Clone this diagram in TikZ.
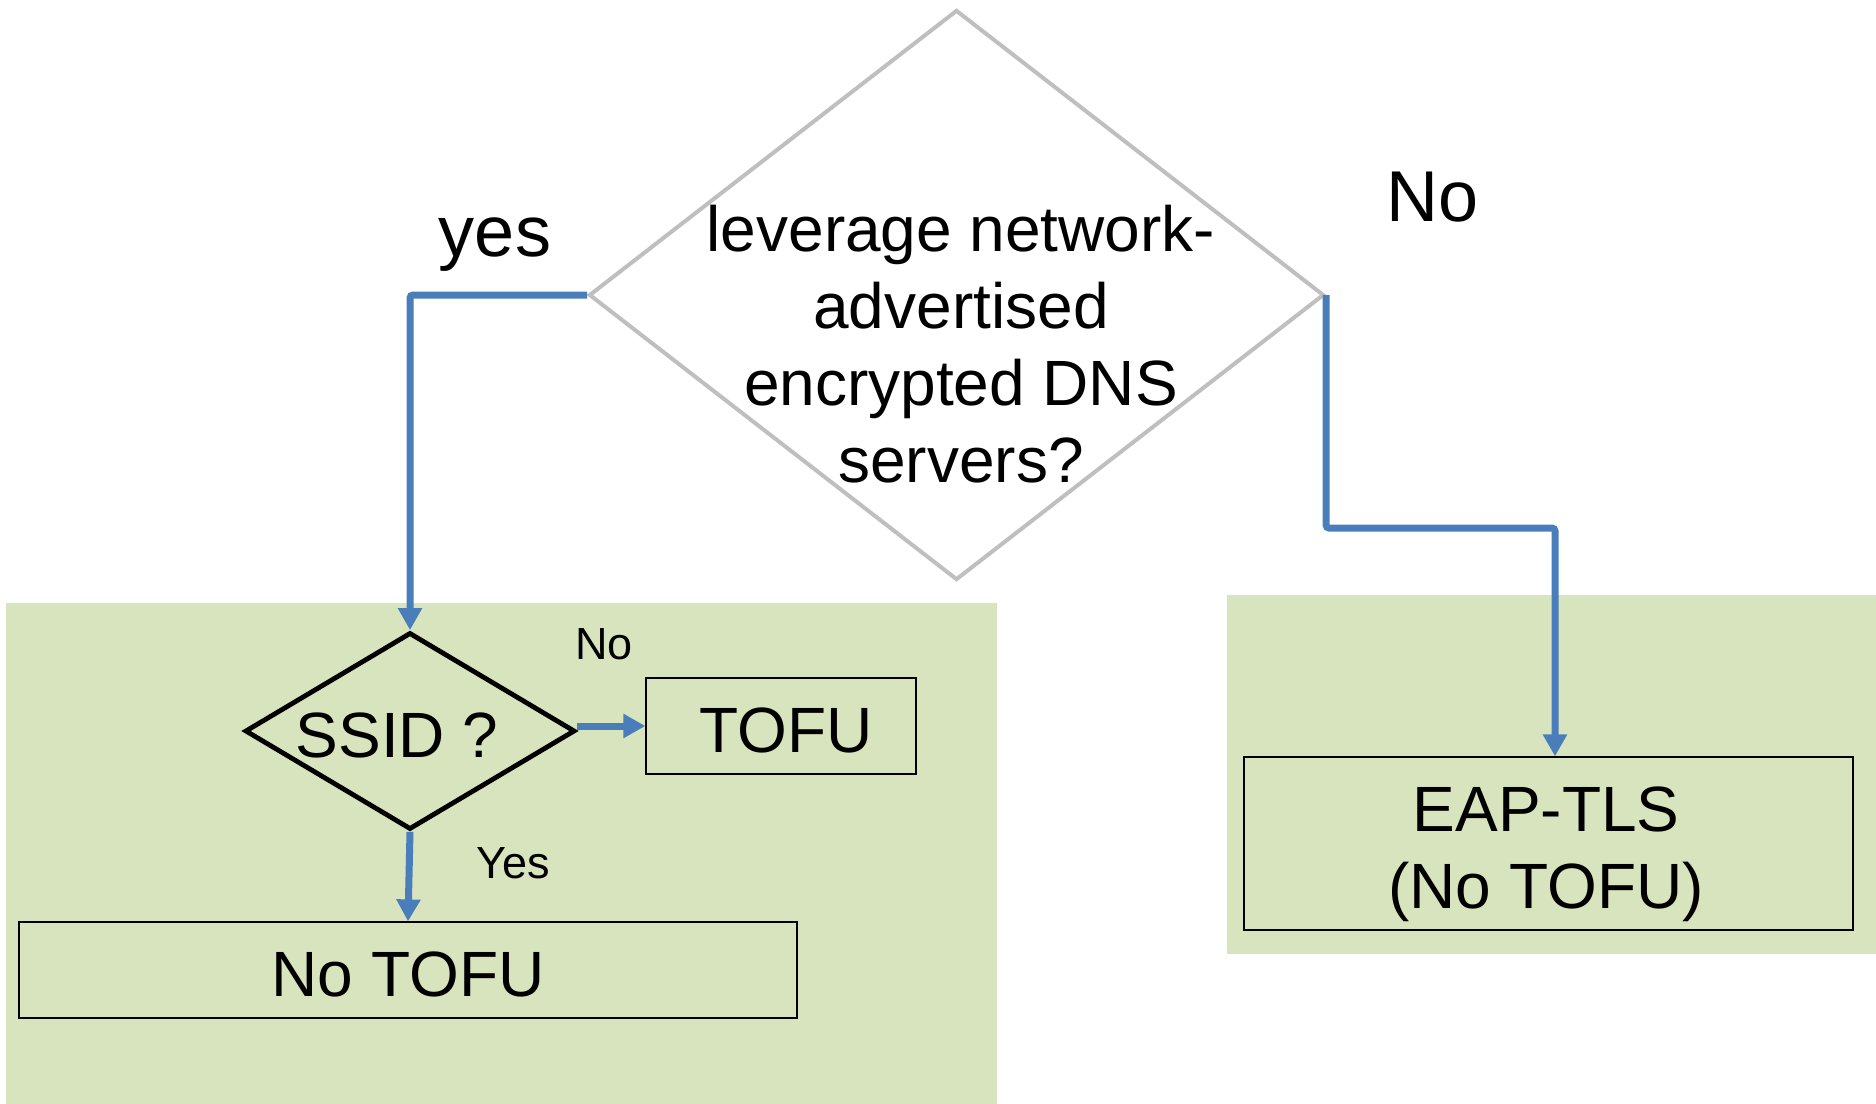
\documentclass[tikz,border=0pt]{standalone}
\usepackage{fontspec}
\setmainfont{Liberation Sans}
\usetikzlibrary{shapes.geometric,arrows.meta}
\definecolor{grn}{RGB}{216,228,189}
\definecolor{blu}{RGB}{74,126,187}
\definecolor{gry}{RGB}{191,191,191}
\begin{document}
\begin{tikzpicture}[x=0.5pt,y=-0.5pt,
 box/.style={draw=black,line width=0.6pt,fill=grn,inner sep=0},
 txt/.style={font=\fontsize{32}{38.5}\selectfont,align=center,inner sep=0},
 biglbl/.style={font=\fontsize{36}{43}\selectfont,inner sep=0},
 smalllbl/.style={font=\fontsize{22.5}{27}\selectfont,inner sep=0},
 flow/.style={draw=blu,line width=3.5pt,-{Triangle[length=11pt,width=11.5pt]},rounded corners=1.5pt}]
\useasboundingbox (0,0) rectangle (1876,1104);
\fill[white] (0,0) rectangle (1876,1104);
% panels
\fill[grn] (6,603) rectangle (997,1104);
\fill[grn] (1227,595) rectangle (1876,954);
% main decision
\node[draw=gry,line width=2pt,shape=diamond,minimum width=367.5pt,minimum height=285pt,inner sep=0] (q) at (956.5,295) {};
\node[txt] (qt) at (961,344) {leverage network-\\advertised\\encrypted DNS\\servers?};
% SSID decision
\node[draw=black,line width=2.4pt,shape=diamond,fill=grn,minimum width=165pt,minimum height=98.5pt,inner sep=0] (s) at (410,731) {};
\node[txt] (st) at (397,735) {SSID ?};
% boxes
\node[box,minimum width=135pt,minimum height=48pt] (tofu) at (781,726) {};
\node[txt] (tofut) at (786,730) {TOFU};
\node[box,minimum width=389pt,minimum height=48pt] (notofu) at (408,970) {};
\node[txt] (notofut) at (408,974) {No TOFU};
\node[box,minimum width=304.5pt,minimum height=86.5pt] (eap) at (1548.5,843.5) {};
\node[txt] (eapt) at (1546,854) {EAP-TLS\\(No TOFU)};
% connectors
\coordinate (nb) at (1555,528);
\draw[flow] (q.west) -| (s.north);
\draw[flow] (q.east) |- (nb) -- (nb |- eap.north);
\draw[flow] (s.east |- tofu.west) -- (tofu.west);
\draw[flow] (s.south) -- (notofu.north);
% labels
\node[biglbl] (lyes) at (495,245) {yes};
\node[biglbl] (lno) at (1433,197) {No};
\node[smalllbl] (sno) at (604,644) {No};
\node[smalllbl] (syes) at (513,863) {Yes};
\end{tikzpicture}
\end{document}
